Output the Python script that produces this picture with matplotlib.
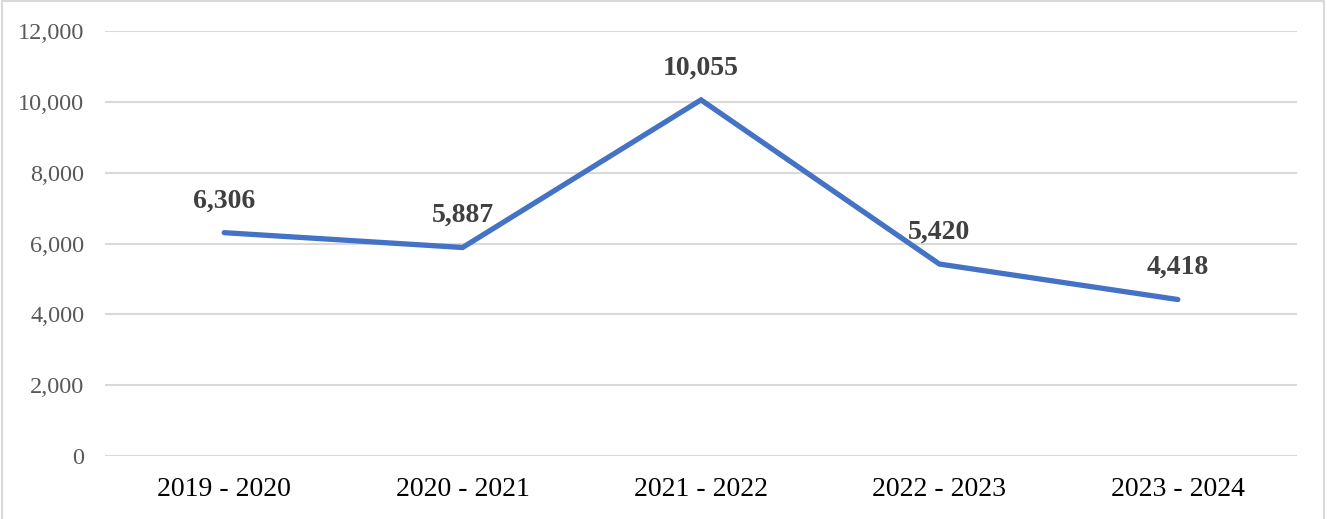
import matplotlib
matplotlib.use("Agg")
import matplotlib.pyplot as plt
from matplotlib.ticker import FuncFormatter

# chart data
periods = ["2019 - 2020", "2020 - 2021", "2021 - 2022", "2022 - 2023", "2023 - 2024"]
counts = [6306, 5887, 10055, 5420, 4418]
y_ticks = [0, 2000, 4000, 6000, 8000, 10000, 12000]

plt.rcParams['font.family'] = ['Liberation Serif', 'DejaVu Serif']

fig = plt.figure(figsize=(13.27, 5.19), dpi=100)
ax = fig.add_axes([105 / 1327, 1 - 456 / 519, (1297 - 105) / 1327, (456 - 31) / 519])

x = list(range(len(periods)))
ax.plot(x, counts, color='#4472C4', linewidth=3.8, solid_capstyle='round',
        solid_joinstyle='miter', zorder=3)

for xi, v in zip(x, counts):
    ax.annotate(f"{v:,}", (xi, v), xytext=(0, 23), textcoords='offset points',
                ha='center', va='center', fontsize=20, fontweight='bold',
                color='#404040')

ax.set_xlim(-0.5, len(periods) - 0.5)
ax.set_ylim(0, 12000)
ax.set_yticks(y_ticks)
ax.yaxis.set_major_formatter(FuncFormatter(lambda v, p: f"{int(v):,}"))
ax.set_xticks(x)
ax.set_xticklabels(periods)

ax.grid(axis='y', color='#D9D9D9', linewidth=1.5)
ax.set_axisbelow(True)
for side in ['top', 'right', 'left', 'bottom']:
    ax.spines[side].set_visible(False)

ax.tick_params(axis='y', length=0, pad=15, labelsize=17.5, labelcolor='#595959')
ax.tick_params(axis='x', length=0, pad=15, labelsize=20, labelcolor='black')

# outer frame of the chart
frame = plt.Rectangle((2 / 1327, -0.02), 1322 / 1327, 1.018, transform=fig.transFigure,
                      fill=False, edgecolor='#D9D9D9', linewidth=1.5, clip_on=False)
fig.patches.append(frame)

fig.savefig("out.png", dpi=100)
